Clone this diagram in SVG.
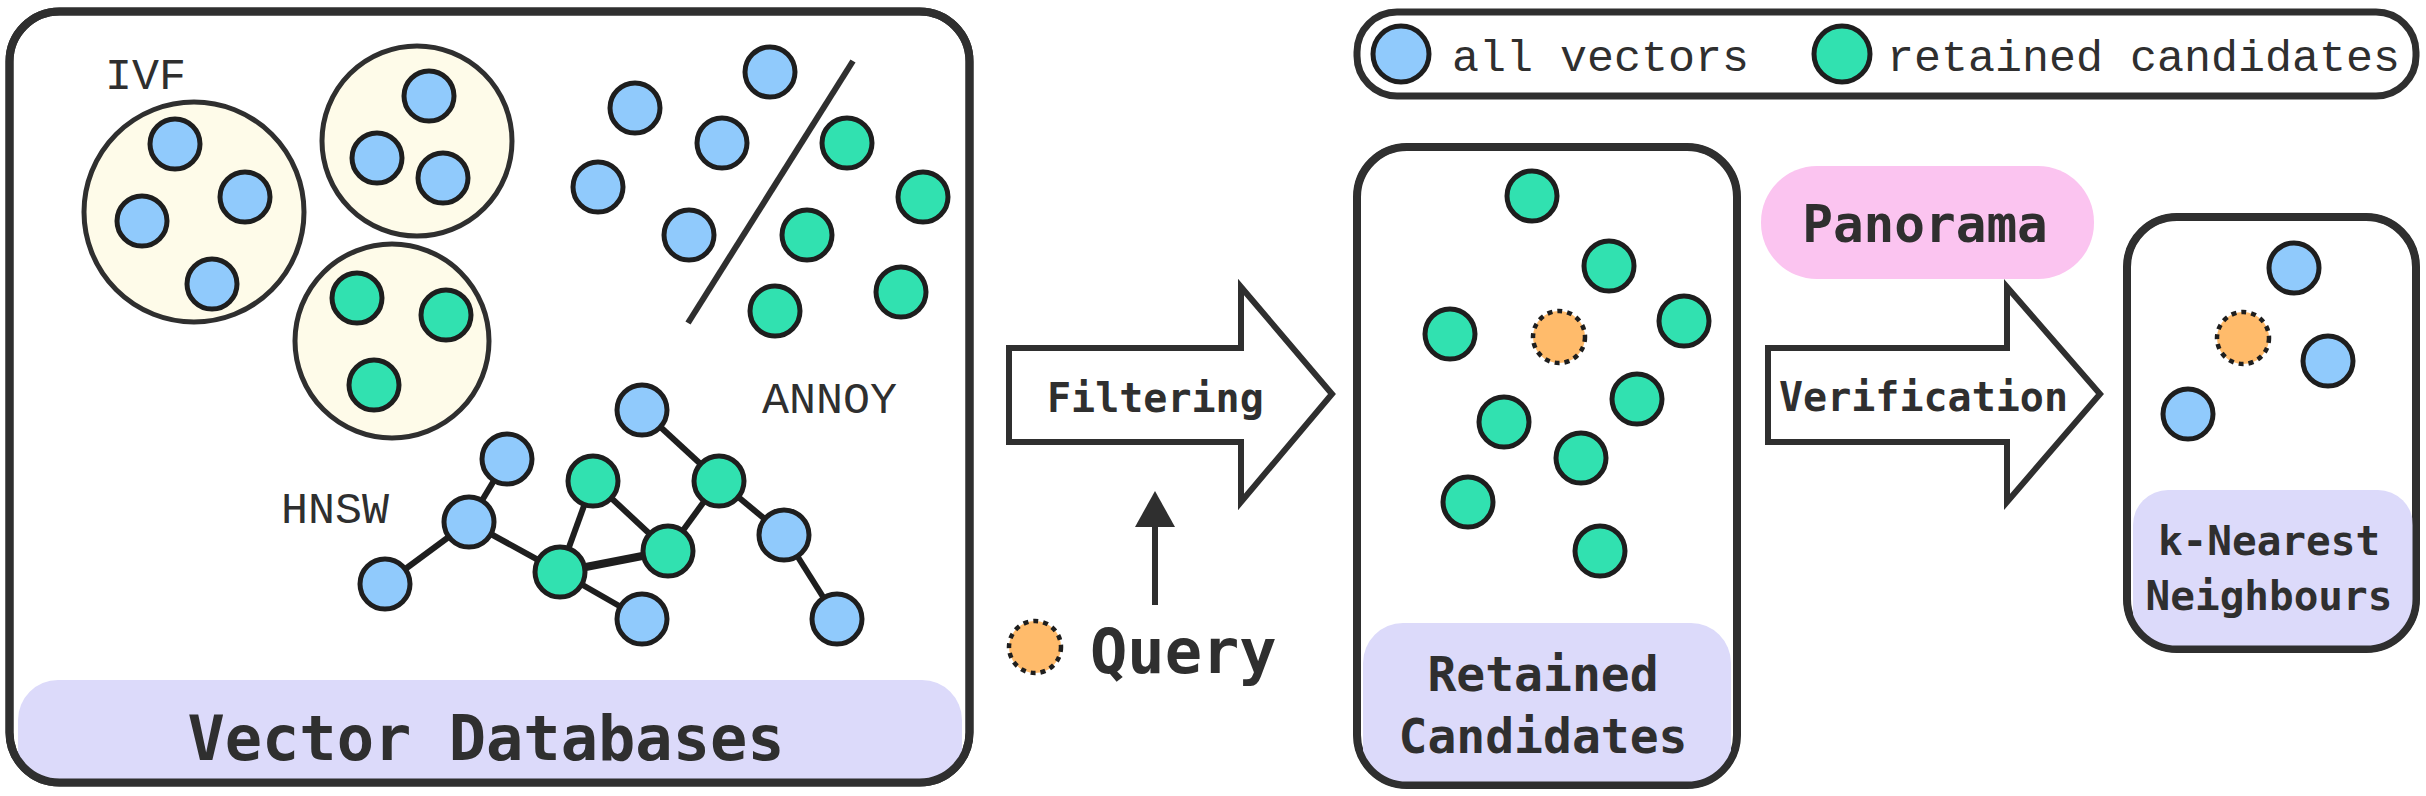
<svg xmlns="http://www.w3.org/2000/svg" width="2426" height="796" viewBox="0 0 2426 796">
<style>
.box{fill:#ffffff;stroke:#2f2f2f;stroke-width:8}
.band{fill:#dcdafa}
.cl{fill:#fefbe9;stroke:#2f2f2f;stroke-width:5}
.b{fill:#90cafc;stroke:#1e1e1e;stroke-width:5}
.g{fill:#31e1b0;stroke:#1e1e1e;stroke-width:5}
.q{fill:#ffbb6b;stroke:#1e1e1e;stroke-width:4.5;stroke-dasharray:5 5}
.e{stroke:#1e1e1e;stroke-width:6;fill:none}
.arr{fill:#ffffff;stroke:#2f2f2f;stroke-width:6;stroke-linejoin:miter}
.lt{font-family:'Liberation Mono','DejaVu Sans Mono',monospace;fill:#2f2f2f;font-size:45px}
.bt{font-family:'DejaVu Sans Mono','Liberation Mono',monospace;fill:#2f2f2f;font-weight:bold}
</style>
<defs>
<clipPath id="cMain"><rect x="9.5" y="11.5" width="960" height="771" rx="50"/></clipPath>
<clipPath id="cRet"><rect x="1357" y="147" width="380" height="638" rx="50"/></clipPath>
<clipPath id="cKnn"><rect x="2127" y="217" width="289" height="432" rx="50"/></clipPath>
</defs>

<g id="vector-databases">
<rect class="box" x="9.5" y="11.5" width="960" height="771" rx="50"/>
<rect class="band" x="18" y="680" width="944" height="120" rx="40" clip-path="url(#cMain)"/>
<rect x="9.5" y="11.5" width="960" height="771" rx="50" fill="none" stroke="#2f2f2f" stroke-width="8"/>
<text class="bt" x="486" y="760" font-size="62" text-anchor="middle">Vector Databases</text>
<g id="ivf">
<text class="lt" x="105" y="89">IVF</text>
<circle class="cl" cx="194" cy="212" r="110"/>
<circle class="cl" cx="417" cy="141" r="95"/>
<circle class="cl" cx="392" cy="341" r="97"/>
<circle class="b" cx="175" cy="144" r="25"/>
<circle class="b" cx="245" cy="197" r="25"/>
<circle class="b" cx="142" cy="221" r="25"/>
<circle class="b" cx="212" cy="284" r="25"/>
<circle class="b" cx="429" cy="96" r="25"/>
<circle class="b" cx="377" cy="158" r="25"/>
<circle class="b" cx="443" cy="178" r="25"/>
<circle class="g" cx="357" cy="298" r="25"/>
<circle class="g" cx="446" cy="315" r="25"/>
<circle class="g" cx="374" cy="385" r="25"/>
</g>
<g id="annoy">
<line x1="853" y1="61" x2="688" y2="323" stroke="#2f2f2f" stroke-width="6"/>
<circle class="b" cx="770" cy="72" r="25"/>
<circle class="b" cx="635" cy="108" r="25"/>
<circle class="b" cx="722" cy="143" r="25"/>
<circle class="b" cx="598" cy="187" r="25"/>
<circle class="b" cx="689" cy="235" r="25"/>
<circle class="g" cx="847" cy="143" r="25"/>
<circle class="g" cx="923" cy="197" r="25"/>
<circle class="g" cx="807" cy="235" r="25"/>
<circle class="g" cx="901" cy="292" r="25"/>
<circle class="g" cx="775" cy="311" r="25"/>
<text class="lt" x="762" y="413">ANNOY</text>
</g>
<g id="hnsw">
<text class="lt" x="281" y="523">HNSW</text>
<g class="e">
<line x1="642" y1="410" x2="719" y2="481"/>
<line x1="719" y1="481" x2="668" y2="551"/>
<line x1="719" y1="481" x2="784" y2="535"/>
<line x1="784" y1="535" x2="837" y2="619"/>
<line x1="593" y1="481" x2="560" y2="572"/>
<line x1="593" y1="481" x2="668" y2="551"/>
<line x1="560" y1="572" x2="668" y2="551" stroke-width="8"/>
<line x1="507" y1="459" x2="469" y2="522"/>
<line x1="469" y1="522" x2="385" y2="584"/>
<line x1="469" y1="522" x2="560" y2="572"/>
<line x1="560" y1="572" x2="642" y2="619"/>
</g>
<circle class="b" cx="642" cy="410" r="25"/>
<circle class="g" cx="719" cy="481" r="25"/>
<circle class="g" cx="593" cy="481" r="25"/>
<circle class="b" cx="507" cy="459" r="25"/>
<circle class="b" cx="469" cy="522" r="25"/>
<circle class="b" cx="385" cy="584" r="25"/>
<circle class="g" cx="560" cy="572" r="25"/>
<circle class="g" cx="668" cy="551" r="25"/>
<circle class="b" cx="642" cy="619" r="25"/>
<circle class="b" cx="784" cy="535" r="25"/>
<circle class="b" cx="837" cy="619" r="25"/>
</g>
</g>

<g id="legend">
<rect x="1357" y="12" width="1059" height="84" rx="40" fill="#ffffff" stroke="#2f2f2f" stroke-width="7"/>
<circle class="b" cx="1401" cy="54" r="28"/>
<text class="lt" x="1452" y="71" font-size="44">all vectors</text>
<circle class="g" cx="1842" cy="54" r="28"/>
<text class="lt" x="1887" y="71" font-size="44">retained candidates</text>
</g>

<g id="query">
<circle class="q" cx="1035" cy="647" r="26"/>
<text class="bt" x="1090" y="673" font-size="62">Query</text>
</g>

<g id="retained-candidates">
<rect class="box" x="1357" y="147" width="380" height="638" rx="50" stroke-width="7"/>
<rect class="band" x="1363" y="623" width="368" height="180" rx="40" clip-path="url(#cRet)"/>
<rect x="1357" y="147" width="380" height="638" rx="50" fill="none" stroke="#2f2f2f" stroke-width="7"/>
<circle class="g" cx="1532" cy="196" r="25"/>
<circle class="g" cx="1609" cy="266" r="25"/>
<circle class="g" cx="1684" cy="321" r="25"/>
<circle class="g" cx="1450" cy="334" r="25"/>
<circle class="q" cx="1559" cy="337" r="26"/>
<circle class="g" cx="1637" cy="399" r="25"/>
<circle class="g" cx="1504" cy="422" r="25"/>
<circle class="g" cx="1581" cy="458" r="25"/>
<circle class="g" cx="1468" cy="502" r="25"/>
<circle class="g" cx="1600" cy="551" r="25"/>
<text class="bt" x="1543" y="691" font-size="48" text-anchor="middle">Retained</text>
<text class="bt" x="1543" y="753" font-size="48" text-anchor="middle">Candidates</text>
</g>

<g id="panorama">
<rect x="1761" y="166" width="333" height="113" rx="56" fill="#fbc4f0"/>
<text class="bt" x="1925" y="242" font-size="51" text-anchor="middle">Panorama</text>
</g>

<g id="knn">
<rect class="box" x="2127" y="217" width="289" height="432" rx="50" stroke-width="7"/>
<rect class="band" x="2133" y="490" width="280" height="180" rx="35" clip-path="url(#cKnn)"/>
<rect x="2127" y="217" width="289" height="432" rx="50" fill="none" stroke="#2f2f2f" stroke-width="7"/>
<circle class="b" cx="2294" cy="268" r="25"/>
<circle class="q" cx="2243" cy="338" r="26"/>
<circle class="b" cx="2328" cy="361" r="25"/>
<circle class="b" cx="2188" cy="414" r="25"/>
<text class="bt" x="2269" y="555" font-size="41" text-anchor="middle">k-Nearest</text>
<text class="bt" x="2269" y="610" font-size="41" text-anchor="middle">Neighbours</text>
</g>

<g id="connectors">
<g id="filtering-arrow">
<polygon class="arr" points="1009,348 1241,348 1241,287 1332,394 1241,502 1241,442 1009,442"/>
<text class="bt" x="1047" y="412" font-size="40">Filtering</text>
</g>
<g id="verification-arrow">
<polygon class="arr" points="1768,348 2007,348 2007,287 2100,394 2007,502 2007,442 1768,442"/>
<text class="bt" x="1779" y="411" font-size="40">Verification</text>
</g>
<g id="query-arrow">
<line x1="1155" y1="605" x2="1155" y2="524" stroke="#2f2f2f" stroke-width="6"/>
<polygon points="1155,491 1175,527 1135,527" fill="#2f2f2f"/>
</g>
</g>
</svg>
